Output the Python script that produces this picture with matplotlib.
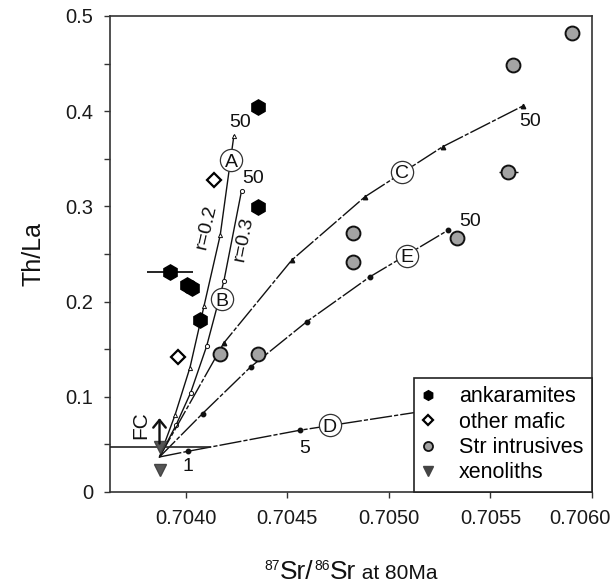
import matplotlib
matplotlib.use("Agg")
import matplotlib.pyplot as plt
from matplotlib.lines import Line2D
from matplotlib.transforms import ScaledTranslation
from matplotlib.ticker import MultipleLocator, FuncFormatter

plt.rcParams['font.family'] = ['Liberation Sans', 'DejaVu Sans']

# ---------------- data ----------------
ank_x = [0.704353, 0.704356, 0.703921, 0.704003, 0.704028, 0.704069]
ank_y = [0.4047, 0.2996, 0.2312, 0.2173, 0.2138, 0.1805]
ank_xerr = [0.0, 0.0, 0.000115, 0.0, 0.0, 0.0]

maf_x = [0.704138, 0.703962]
maf_y = [0.3276, 0.1419]

str_x = [0.704167, 0.704353, 0.704824, 0.704824, 0.705333, 0.705588, 0.705613, 0.705900]
str_y = [0.1447, 0.1447, 0.2418, 0.2722, 0.2663, 0.3363, 0.4485, 0.4818]
str_xerr = [0, 0, 0, 0, 0, 0.000048, 0, 0]

xen_x = [0.70387, 0.70387]
xen_y = [0.0473, 0.0235]
xen_xerr = [0.000255, 0.0]

origin = (0.70387, 0.0368)
curveA_x = [0.70387, 0.703946, 0.704020, 0.704089, 0.704169, 0.704236]
curveA_y = [0.0368, 0.0806, 0.1307, 0.1952, 0.2698, 0.3739]
curveB_x = [0.70387, 0.703951, 0.704023, 0.704102, 0.704187, 0.704274]
curveB_y = [0.0368, 0.0701, 0.1041, 0.1531, 0.2215, 0.3164]
curveC_x = [0.70387, 0.704187, 0.704521, 0.704882, 0.705264, 0.705659]
curveC_y = [0.0368, 0.1566, 0.2435, 0.3101, 0.3626, 0.4054]
curveE_x = [0.70387, 0.704082, 0.704319, 0.704594, 0.704906, 0.705292]
curveE_y = [0.0368, 0.0824, 0.1314, 0.1787, 0.2260, 0.2751]
curveD_x = [0.70387, 0.704011, 0.704562, 0.705128, 0.705750]
curveD_y = [0.0368, 0.0428, 0.0649, 0.0835, 0.1035]

circle_labels = ['A', 'B', 'C', 'D', 'E']
circle_x = [0.704222, 0.704176, 0.705062, 0.704709, 0.705090]
circle_y = [0.3487, 0.2022, 0.3363, 0.0700, 0.2481]

num_labels = ['50', '50', '50', '50', '1', '5']
num_x = [0.704269, 0.704332, 0.705695, 0.705399, 0.704011, 0.704583]
num_y = [0.3882, 0.3294, 0.3889, 0.2838, 0.0270, 0.0459]

xticks = [0.7040, 0.7045, 0.7050, 0.7055, 0.7060]
yticks = [0, 0.1, 0.2, 0.3, 0.4, 0.5]
legend_labels = ['ankaramites', 'other mafic', 'Str intrusives', 'xenoliths']

# ---------------- figure ----------------
fig = plt.figure(figsize=(6.13, 5.83), dpi=100)
ax = fig.add_axes([0.1794, 0.1561, 0.9657 - 0.1794, 0.9726 - 0.1561])
ax.set_xlim(0.703626, 0.7060)
ax.set_ylim(0, 0.5)

dk = '#111111'
dash = (0, (16, 1.5, 3, 1.5))
ax.plot(curveA_x, curveA_y, '-', color=dk, lw=1.0, marker='^', ms=3.0, mfc='white',
        mec=dk, mew=0.7, markevery=slice(1, None), zorder=2)
ax.plot(curveB_x, curveB_y, '-', color=dk, lw=1.0, marker='o', ms=3.0, mfc='white',
        mec=dk, mew=0.7, markevery=slice(1, None), zorder=2)
ax.plot(curveC_x, curveC_y, color=dk, lw=1.0, ls=dash, marker='^', ms=3.2, mfc=dk,
        mec=dk, markevery=slice(1, None), zorder=2)
ax.plot(curveE_x, curveE_y, color=dk, lw=1.0, ls=dash, marker='o', ms=3.2, mfc=dk,
        mec=dk, markevery=slice(1, None), zorder=2)
ax.plot(curveD_x, curveD_y, color=dk, lw=1.0, ls=dash, marker='o', ms=3.2, mfc=dk,
        mec=dk, markevery=[1, 2], zorder=2)

# data
ax.errorbar(ank_x, ank_y, xerr=ank_xerr, fmt='h', ms=11, mfc='black', mec='black',
            ecolor='black', elinewidth=1.2, capsize=0, zorder=4)
ax.plot(maf_x, maf_y, 'D', ms=7.5, mfc='white', mec='black', mew=1.6, zorder=4)
ax.errorbar(str_x, str_y, xerr=str_xerr, fmt='o', ms=10, mfc='#a3a3a3', mec='#111111',
            mew=1.4, ecolor='#111111', elinewidth=1.0, capsize=0, zorder=4)
ax.errorbar(xen_x, xen_y, xerr=xen_xerr, fmt='v', ms=9, mfc='#555555', mec='#444444',
            ecolor='#222222', elinewidth=1.2, capsize=0, zorder=4)

# FC arrow
ax.annotate('', xy=(origin[0], 0.0805), xytext=(origin[0], 0.0480),
            arrowprops=dict(arrowstyle='->,head_length=0.55,head_width=0.45',
                            color=dk, lw=1.7), zorder=5)
ax.text(0.703778, 0.0701, 'FC', rotation=90, fontsize=15, ha='center', va='center',
        color=dk)

# circled curve labels
ax.plot(circle_x, circle_y, ls='none', marker='o', ms=16, mfc='white', mec='#333333',
        mew=0.9, zorder=5)
for lab, x, y in zip(circle_labels, circle_x, circle_y):
    ax.text(x, y, lab, fontsize=14, ha='center', va='center_baseline', color=dk,
            zorder=6)

for lab, x, y in zip(num_labels, num_x, num_y):
    ax.text(x, y, lab, fontsize=14, ha='center', va='center', color=dk, zorder=6)

ax.text(0.704099, 0.2785, 'r=0.2', rotation=77, fontsize=14, ha='center',
        va='center', color=dk, zorder=6,
        bbox=dict(boxstyle='square,pad=0.0', fc='white', ec='none'))
ax.text(0.704282, 0.2663, 'r=0.3', rotation=79, fontsize=14, ha='center',
        va='center', color=dk, zorder=6,
        bbox=dict(boxstyle='square,pad=0.0', fc='white', ec='none'))

# axes styling
ax.set_xticks(xticks)
ax.set_yticks(yticks)
ax.yaxis.set_minor_locator(MultipleLocator(0.05))
ax.xaxis.set_major_formatter(FuncFormatter(lambda v, p: f'{v:.4f}'))
ax.yaxis.set_major_formatter(FuncFormatter(lambda v, p: '0' if abs(v) < 1e-9 else f'{v:.1f}'))
ax.tick_params(axis='both', which='both', direction='out', length=4, width=1.0,
               color='#333333', labelsize=14.5, labelcolor='#1a1a1a', pad=8)
for s in ax.spines.values():
    s.set_linewidth(1.2)
    s.set_color('#333333')

ax.set_ylabel('Th/La', fontsize=18, color=dk, labelpad=14)

handles = [
    Line2D([], [], ls='none', marker='h', ms=7, mfc='black', mec='black'),
    Line2D([], [], ls='none', marker='D', ms=5.5, mfc='white', mec='black', mew=1.6),
    Line2D([], [], ls='none', marker='o', ms=6.5, mfc='#a3a3a3', mec='#111111', mew=1.3),
    Line2D([], [], ls='none', marker='v', ms=6.5, mfc='#444444', mec='#444444'),
]
leg = ax.legend(handles, legend_labels, loc='lower right', fontsize=15.5, frameon=True,
                fancybox=False, edgecolor='#222222', framealpha=1, borderaxespad=0,
                handlelength=0.5, handletextpad=1.2, labelspacing=0.2, borderpad=0.4)
leg.get_frame().set_linewidth(1.2)
leg.set_zorder(10)

fig.canvas.draw()
# last x tick label pulled inward (as in the reference)
last = ax.xaxis.get_major_ticks()[-1].label1
last.set_transform(last.get_transform() + ScaledTranslation(-12 / 100, 0, fig.dpi_scale_trans))

# x label built from pieces
r = fig.canvas.get_renderer()
pieces = [('87', 10, 9), ('Sr/', 19, 0), ('86', 10, 9), ('Sr', 19, 0), (' at 80Ma', 15, 0)]
base_y = 583 - 579
texts = []
widths = []
for s, fs, rise in pieces:
    t = fig.text(0, 0, s, fontsize=fs, color=dk, ha='left', va='baseline')
    widths.append(t.get_window_extent(r).width)
    texts.append(t)
total = sum(widths)
cx = (110 + 592) / 2
x0 = cx - total / 2
for (s, fs, rise), t, w in zip(pieces, texts, widths):
    t.set_position((x0 / 613, (base_y + rise) / 583))
    x0 += w

fig.savefig('out.png', dpi=100)
